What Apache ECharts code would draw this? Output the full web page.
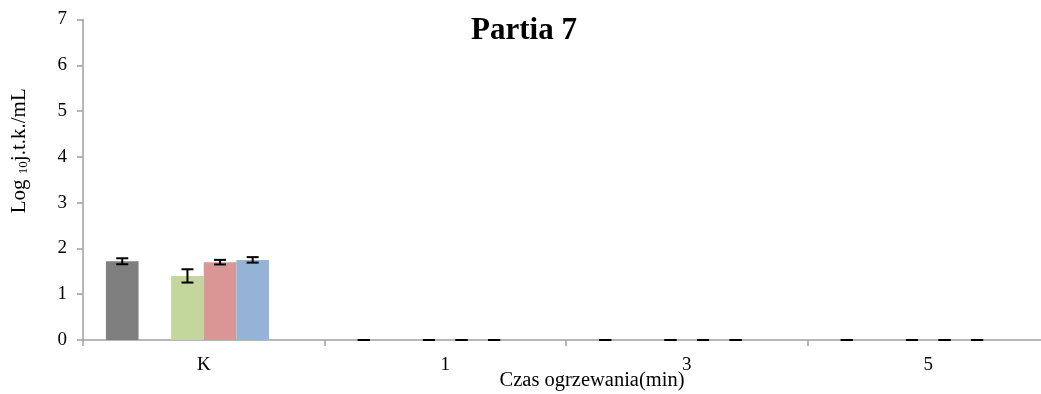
<!DOCTYPE html>
<html>
<head>
<meta charset="utf-8">
<script src="https://cdn.jsdelivr.net/npm/echarts@6/dist/echarts.min.js"></script>
<style>
  html, body { margin: 0; padding: 0; background: #fff; }
  #chart { width: 1041px; height: 394px; }
</style>
</head>
<body>
<div id="chart"></div>
<script>
// Heating time categories (K = control)
const categories = ['K', '1', '3', '5'];

// Mean log10 CFU/mL per series (null = series not measured)
const seriesNames = ['S1', 'S2', 'S3', 'S4', 'S5', 'S6'];
const seriesColors = ['#7f7f7f', '#9bbb59', '#c3d69b', '#d99694', '#95b3d7', '#b3a2c7'];
const valuesS1 = [1.72, 0, 0, 0];
const valuesS2 = [null, null, null, null];
const valuesS3 = [1.40, 0, 0, 0];
const valuesS4 = [1.70, 0, 0, 0];
const valuesS5 = [1.75, 0, 0, 0];
const valuesS6 = [null, null, null, null];

// Standard deviations for the error bars
const errorsS1 = [0.065, 0, 0, 0];
const errorsS2 = [null, null, null, null];
const errorsS3 = [0.145, 0, 0, 0];
const errorsS4 = [0.05, 0, 0, 0];
const errorsS5 = [0.06, 0, 0, 0];
const errorsS6 = [null, null, null, null];

const yTicks = [0, 1, 2, 3, 4, 5, 6, 7];

const allValues = [valuesS1, valuesS2, valuesS3, valuesS4, valuesS5, valuesS6];
const allErrors = [errorsS1, errorsS2, errorsS3, errorsS4, errorsS5, errorsS6];

const CAT_GAP = 0.19;
const nSeries = allValues.length;

const FONT = '"Liberation Serif", "Times New Roman", serif';

const chart = echarts.init(document.getElementById('chart'), null, { renderer: 'canvas' });

const barSeries = allValues.map((vals, i) => ({
  name: seriesNames[i],
  type: 'bar',
  data: vals.map(v => (v === null ? '-' : v)),
  barGap: '0%',
  barCategoryGap: (CAT_GAP * 100) + '%',
  itemStyle: { color: seriesColors[i] },
  silent: true
}));

// Error bars drawn as custom series positioned over each bar slot
const errorSeries = allValues.map((vals, i) => ({
  name: seriesNames[i] + ' err',
  type: 'custom',
  silent: true,
  z: 5,
  data: vals.map((v, j) => (v === null ? null : [j, v, allErrors[i][j]])).filter(d => d !== null),
  encode: { x: 0, y: 1 },
  renderItem: function (params, api) {
    const cat = api.value(0);
    const val = api.value(1);
    const err = api.value(2);
    const catW = api.size([1, 0])[0];
    const slot = catW * (1 - CAT_GAP) / nSeries;
    const center = api.coord([cat, val]);
    const x = center[0] + (i - (nSeries - 1) / 2) * slot;
    const yHi = api.coord([cat, val + err])[1];
    const yLo = api.coord([cat, val - err])[1];
    const half = 6;
    const style = { stroke: '#000', lineWidth: 2 };
    return {
      type: 'group',
      children: [
        { type: 'line', shape: { x1: x, y1: yHi, x2: x, y2: yLo }, style },
        { type: 'line', shape: { x1: x - half, y1: yHi, x2: x + half, y2: yHi }, style },
        { type: 'line', shape: { x1: x - half, y1: yLo, x2: x + half, y2: yLo }, style }
      ]
    };
  }
}));

chart.setOption({
  animation: false,
  backgroundColor: '#fff',
  title: {
    text: 'Partia 7',
    left: 519,
    top: 10,
    textAlign: 'center',
    textStyle: { fontFamily: FONT, fontSize: 31, fontWeight: 'bold', color: '#000' }
  },
  grid: { left: 83, right: -8, top: 19.5, bottom: 54, containLabel: false, outerBoundsMode: 'none' },
  xAxis: {
    type: 'category',
    data: categories,
    name: 'Czas ogrzewania(min)',
    nameLocation: 'middle',
    nameGap: 30,
    nameMoveOverlap: false,
    nameTextStyle: { fontFamily: FONT, fontSize: 20.5, color: '#000', padding: [0, 0, 0, 52] },
    axisLine: { lineStyle: { color: '#a0a0a0', width: 1.5 } },
    axisTick: { show: true, length: 6, lineStyle: { color: '#a0a0a0', width: 1.5 } },
    axisLabel: { fontFamily: FONT, fontSize: 19, color: '#000', margin: 16 }
  },
  yAxis: {
    type: 'value',
    min: yTicks[0],
    max: yTicks[yTicks.length - 1],
    interval: 1,
    name: '{a|Log }{b|10}{a|j.t.k./mL}',
    nameLocation: 'middle',
    nameGap: 53,
    nameRotate: 90,
    nameMoveOverlap: false,
    nameTextStyle: {
      padding: [0, 0, 0, 58],
      rich: {
        a: { fontFamily: FONT, fontSize: 21, color: '#000' },
        b: { fontFamily: FONT, fontSize: 13, color: '#000', padding: [8, 0, 0, 0] }
      }
    },
    splitLine: { show: false },
    axisLine: { show: true, lineStyle: { color: '#a0a0a0', width: 1.5 } },
    axisTick: { show: true, length: 6, lineStyle: { color: '#a0a0a0', width: 1.5 } },
    axisLabel: { fontFamily: FONT, fontSize: 19, color: '#000', margin: 16 }
  },
  series: [...barSeries, ...errorSeries]
});
</script>
</body>
</html>
